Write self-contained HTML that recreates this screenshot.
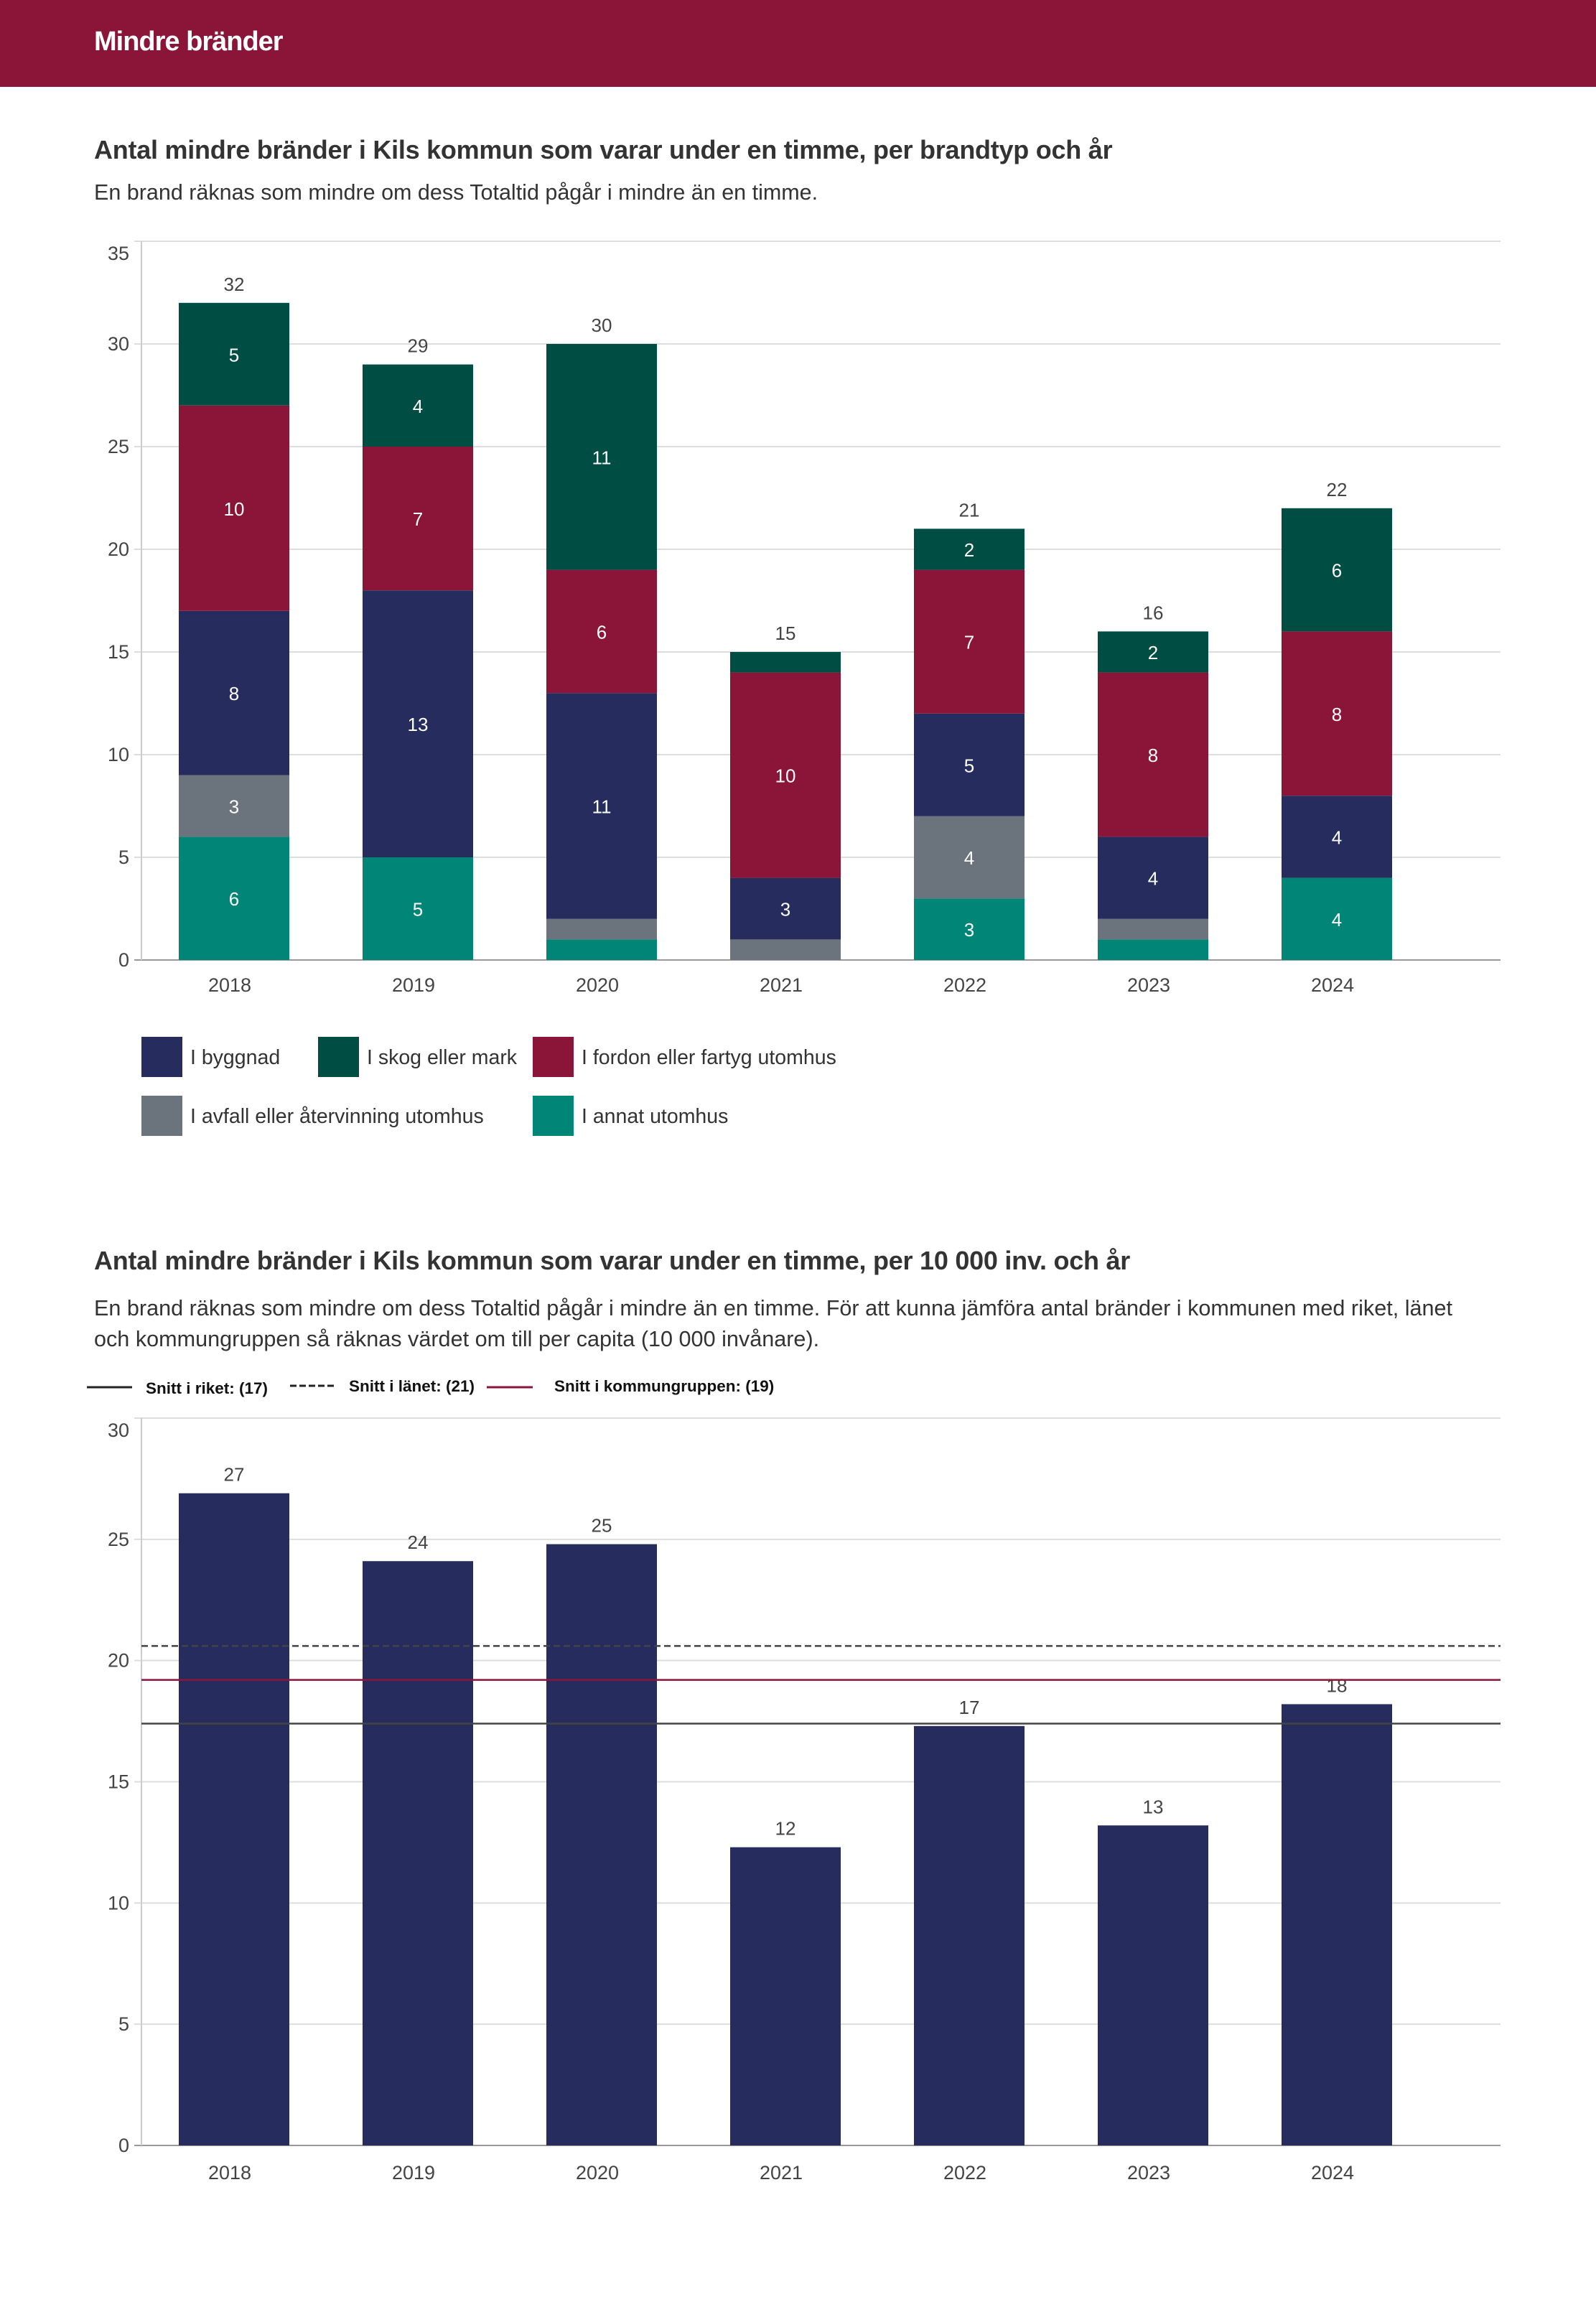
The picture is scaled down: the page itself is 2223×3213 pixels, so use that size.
<!DOCTYPE html>
<html><head><meta charset="utf-8"><style>
html,body{margin:0;padding:0;background:#fff;}
svg{display:block;font-family:"Liberation Sans",sans-serif;}
</style></head><body>
<svg id="page" width="2223" height="3213" viewBox="0 0 2223 3213" xmlns="http://www.w3.org/2000/svg">
<rect x="0" y="0" width="2223" height="121" fill="#8b1538"/>
<text x="131" y="70" fill="#fff" font-size="38" font-weight="bold" letter-spacing="-1">Mindre bränder</text>
<text x="131" y="221" fill="#333" font-size="36" font-weight="bold" letter-spacing="-0.25">Antal mindre bränder i Kils kommun som varar under en timme, per brandtyp och år</text>
<text x="131" y="278" fill="#333" font-size="30.5">En brand räknas som mindre om dess Totaltid pågår i mindre än en timme.</text>
<g id="c1"></g>
<g id="leg1"></g>
<text x="131" y="1768" fill="#333" font-size="36" font-weight="bold" letter-spacing="-0.25">Antal mindre bränder i Kils kommun som varar under en timme, per 10 000 inv. och år</text>
<text x="131" y="1832" fill="#333" font-size="30.6">En brand räknas som mindre om dess Totaltid pågår i mindre än en timme. För att kunna jämföra antal bränder i kommunen med riket, länet</text>
<text x="131" y="1875" fill="#333" font-size="30.6">och kommungruppen så räknas värdet om till per capita (10 000 invånare).</text>
<g>
<line x1="121" y1="1932" x2="184" y2="1932" stroke="#222" stroke-width="3"/>
<text x="203" y="1941" font-size="22.5" font-weight="bold" fill="#111">Snitt i riket: (17)</text>
<line x1="404" y1="1930" x2="465" y2="1930" stroke="#222" stroke-width="3" stroke-dasharray="9,4"/>
<text x="486" y="1938" font-size="22.5" font-weight="bold" fill="#111">Snitt i länet: (21)</text>
<line x1="678" y1="1932" x2="742" y2="1932" stroke="#8b1538" stroke-width="3"/>
<text x="772" y="1938" font-size="22.5" font-weight="bold" fill="#111">Snitt i kommungruppen: (19)</text>
</g>
<g id="c2"></g>
</svg>
<script>
const years = ["2018","2019","2020","2021","2022","2023","2024"];
const seriesNames = ["I annat utomhus","I avfall eller återvinning utomhus","I byggnad","I fordon eller fartyg utomhus","I skog eller mark"];
const seriesColors = ["#008577","#6b737c","#262d5e","#8b1538","#004d43"];
const annat = [6,5,1,0,3,1,4];
const avfall = [3,0,1,1,4,1,0];
const byggnad = [8,13,11,3,5,4,4];
const fordon = [10,7,6,10,7,8,8];
const skog = [5,4,11,1,2,2,6];
const ticks1 = [0,5,10,15,20,25,30,35];
const perCapita = [26.9,24.1,24.8,12.3,17.3,13.2,18.2];
const perCapitaLabels = ["27","24","25","12","17","13","18"];
const ticks2 = [0,5,10,15,20,25,30];
const avgRiket = 17.4;
const avgLanet = 20.6;
const avgKommungrupp = 19.2;

const NS="http://www.w3.org/2000/svg";
function mk(tag, attrs, parent, txt){const e=document.createElementNS(NS,tag);for(const k in attrs)e.setAttribute(k,attrs[k]);if(txt!==undefined)e.textContent=txt;parent.appendChild(e);return e;}

const x0=197, x1=2090, band=256, bw=154, firstC=326;
const xc = i => firstC + i*band;

// chart 1
const c1=document.getElementById('c1');
const y1 = v => 1337 - (1337-336)/35*v;
ticks1.forEach((t,j)=>{
  const gl=mk('line',{x1:187,x2:x1,y1:y1(t),y2:y1(t),stroke:t===0?'#999':'#ddd','stroke-width':2},c1);
  
  
  const off = (j===ticks1.length-1) ? 26 : 9;
  const tl=mk('text',{x:180,y:y1(t)+off,'text-anchor':'end','font-size':27,fill:'#444'},c1,String(t));
  
  
});
const ax1=mk('line',{x1:x0,x2:x0,y1:336,y2:1337,stroke:'#ccc','stroke-width':2},c1);


const stacks=[annat,avfall,byggnad,fordon,skog];
years.forEach((yr,i)=>{
  let cum=0;
  stacks.forEach((s,k)=>{
    const v=s[i]; if(v<=0) return;
    const top=y1(cum+v), bot=y1(cum);
    const r=mk('rect',{x:xc(i)-bw/2,y:top,width:bw,height:bot-top,fill:seriesColors[k]},c1);
    
    
    if(v>=2){
      const lt=mk('text',{x:xc(i),y:(top+bot)/2+10,'text-anchor':'middle','font-size':26,fill:'#fff'},c1,String(v));
      
      
    }
    cum+=v;
  });
  const tt=mk('text',{x:xc(i),y:y1(cum)-17,'text-anchor':'middle','font-size':26,fill:'#444'},c1,String(cum));
  
  
  const xl=mk('text',{x:xc(i)-6,y:1381,'text-anchor':'middle','font-size':27,fill:'#444'},c1,yr);
  
  
});
// legend 1
const leg=document.getElementById('leg1');
const legOrder=[2,4,3,1,0];
const legPos=[[197,1444],[443,1444],[742,1444],[197,1526],[742,1526]];
legOrder.forEach((k,j)=>{
  const [lx,ly]=legPos[j];
  const sq=mk('rect',{x:lx,y:ly,width:57,height:56,fill:seriesColors[k]},leg);
  
  
  const lt=mk('text',{x:lx+68,y:ly+38,'font-size':28.5,fill:'#333'},leg,seriesNames[k]);
  
  
});

// chart 2
const c2=document.getElementById('c2');
const y2 = v => 2988 - (2988-1975)/30*v;
ticks2.forEach((t,j)=>{
  const gl=mk('line',{x1:187,x2:x1,y1:y2(t),y2:y2(t),stroke:t===0?'#999':'#ddd','stroke-width':2},c2);
  
  
  const off = (j===ticks2.length-1) ? 26 : 9;
  const tl=mk('text',{x:180,y:y2(t)+off,'text-anchor':'end','font-size':27,fill:'#444'},c2,String(t));
  
  
});
const ax2=mk('line',{x1:x0,x2:x0,y1:1975,y2:2988,stroke:'#ccc','stroke-width':2},c2);


years.forEach((yr,i)=>{
  const v=perCapita[i];
  const r=mk('rect',{x:xc(i)-bw/2,y:y2(v),width:bw,height:y2(0)-y2(v),fill:'#262d5e'},c2);
  
  
  const vl=mk('text',{x:xc(i),y:y2(v)-17,'text-anchor':'middle','font-size':26,fill:'#444'},c2,perCapitaLabels[i]);
  
  
  const xl=mk('text',{x:xc(i)-6,y:3035,'text-anchor':'middle','font-size':27,fill:'#444'},c2,yr);
  
  
});
const lL=mk('line',{x1:x0,x2:x1,y1:y2(avgLanet),y2:y2(avgLanet),stroke:'#444','stroke-width':2.5,'stroke-dasharray':'9,5'},c2);


const lK=mk('line',{x1:x0,x2:x1,y1:y2(avgKommungrupp),y2:y2(avgKommungrupp),stroke:'#8b1538','stroke-width':2.5},c2);


const lR=mk('line',{x1:x0,x2:x1,y1:y2(avgRiket),y2:y2(avgRiket),stroke:'#444','stroke-width':2.5},c2);


</script>
</body></html>
